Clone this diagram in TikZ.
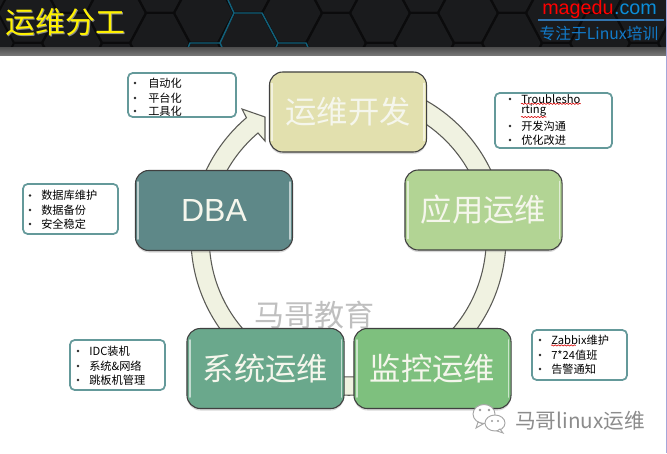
\documentclass[tikz,border=0pt]{standalone}
\usepackage{fontspec}
\setmainfont{Liberation Sans}
\newfontfamily\cjk{Noto Sans CJK SC}
\usetikzlibrary{shadows,decorations.pathmorphing}
\definecolor{hdbg}{HTML}{1A1B1D}
\definecolor{hdline}{HTML}{0B0B0C}
\definecolor{hdcyan}{HTML}{12607A}
\definecolor{ringfill}{HTML}{F0F2E1}
\definecolor{ringline}{HTML}{5A5A55}
\definecolor{notec}{HTML}{64999A}
\definecolor{boxtext}{HTML}{F5F6EC}
\definecolor{devc}{RGB}{226,224,174}
\definecolor{appc}{RGB}{178,212,148}
\definecolor{dbac}{RGB}{94,136,136}
\definecolor{sysc}{RGB}{106,168,140}
\definecolor{monc}{RGB}{126,192,126}
\tikzset{
  bigbox/.style={draw=black!75,line width=.8pt,rounded corners=10pt,minimum width=117.8pt,minimum height=60pt,inner sep=0pt,text=boxtext,
    font=\cjk\fontsize{23.5}{26}\selectfont,drop shadow={shadow xshift=0pt,shadow yshift=-1.5pt,opacity=.3}},
  notebox/.style={draw=notec,line width=1.3pt,fill=white,rounded corners=3.5pt,inner sep=0pt},
  noteline/.style={anchor=west,inner sep=0pt,text=black,font=\cjk\fontsize{8.4}{10}\selectfont},
  notedot/.style={circle,fill=black!85,minimum size=1.9pt,inner sep=0pt},
  gloss/.style={line width=1.3pt,line cap=round,opacity=.6,draw=white},
  wavy/.style={draw=red!85!black,line width=.45pt,decorate,decoration={snake,amplitude=.45pt,segment length=2.4pt}},
}
\newcommand{\gl}[1]{%
  \draw[gloss] ([xshift=2.4pt,yshift=-9pt]#1.north west) -- ([xshift=2.4pt,yshift=9pt]#1.south west);
  \draw[gloss] ([xshift=-2.4pt,yshift=-9pt]#1.north east) -- ([xshift=-2.4pt,yshift=9pt]#1.south east);
}
\newcommand{\nt}[3]{%
  \node[notedot] (#1d) at (\dotx,#2) {};
  \node[noteline] (#1) at (\textx,#2) {#3};
}
\begin{document}
\begin{tikzpicture}[x=.75pt,y=-.75pt]
\useasboundingbox (0,0) rectangle (667,453);
\fill[white] (0,0) rectangle (667,453);
% header
\fill[hdbg] (0,0) rectangle (667,48);
\begin{scope}
\clip (0,0) rectangle (667,48);
\foreach \i in {-1,...,15}{
  \pgfmathsetmacro{\cx}{72+44*\i}
  \pgfmathsetmacro{\cy}{isodd(\i+10)?13:43}
  \foreach \j in {-1,0,1}{
    \draw[hdline,line width=1.5pt,shift={(\cx,\cy+60*\j)}]
      (-14,-30) -- (14,-30) -- (30,0) -- (14,30) -- (-14,30) -- (-30,0) -- cycle;
  }
}
\draw[hdcyan,line width=1.1pt,line join=round]
  (228,0) -- (234,13) -- (262,13) -- (278,43) -- (306,43) -- (314,60)
  (234,13) -- (220,43) -- (228,60)
  (220,43) -- (190,43) -- (183,60)
  (278,43) -- (270,60);
\end{scope}
\shade[top color=black!68,bottom color=black!52] (0,48) rectangle (667,56);
\node[inner sep=0pt,text=black!45,font=\cjk\fontsize{22.5}{24}\selectfont] (titleshadow) at (66.5,23.5) {运维分工};
\node[inner sep=0pt,text=yellow,font=\cjk\fontsize{22.5}{24}\selectfont] (title) at (65,22) {运维分工};
\node[anchor=base west,inner sep=0pt,font=\fontsize{14.8}{18}\selectfont,text=red] (mage) at (542,14.5) {magedu};
\node[anchor=base west,inner sep=0pt,font=\fontsize{14.8}{18}\selectfont,text=cyan!75!blue] (com) at (mage.base east) {.com};
\coordinate (hl) at (538,20);
\coordinate (hr) at (664,20);
\draw[cyan!60!blue!80!black,line width=1pt] (hl) -- (hr);
\node[inner sep=0pt,font=\cjk\fontsize{11.8}{13}\selectfont,text=cyan!60!blue] (slogan) at (599,33) {专注于Linux培训};
% right border
\draw[gray!60!blue!50,line width=1pt] (666.5,0) -- (666.5,453);
% ring
\coordinate (c) at (348.5,237.7);
\draw[fill=ringfill,draw=ringline,line width=.8pt,line join=miter]
  ([shift={(-80:157.5)}]c) arc[start angle=-80,end angle=229.6,radius=157.5]
  -- (242,109) -- (265,117) -- (265,141) -- (258,133)
  arc[start angle=229.6,end angle=-80,radius=138.5] -- cycle;
% watermark behind the boxes
\node[inner sep=0pt,text=black!25,font=\cjk\fontsize{22.5}{24}\selectfont] (wm1) at (314,315) {马哥教育};
% boxes
\node[bigbox,fill=devc] (dev) at (348,112) {运维开发};
\node[bigbox,fill=appc] (app) at (483.5,210) {应用运维};
\node[bigbox,fill=dbac,font=\fontsize{24}{26}\selectfont] (dba) at (214,210.5) {DBA};
\node[bigbox,fill=sysc] (sys) at (265.5,368.5) {系统运维};
\node[bigbox,fill=monc] (mon) at (432.5,368.5) {监控运维};
\gl{dev}
\gl{app}
\gl{dba}
\gl{sys}
\gl{mon}
% notes
\draw[notebox] (128,73) rectangle (236,117);
\def\dotx{135}\def\textx{148}
\nt{na}{83}{自动化}
\nt{nb}{98}{平台化}
\nt{nc}{111}{工具化}
\draw[notebox] (495,93) rectangle (612,148);
\def\dotx{510}\def\textx{521}
\nt{nd}{99}{Troublesho}
\node[noteline] (ne) at (521,111) {rting};
\nt{nf}{126}{开发沟通}
\nt{ng}{140}{优化改进}
\draw[wavy] (nd.south west) -- (nd.south east);
\draw[wavy] (ne.south west) -- (ne.south east);
\draw[notebox] (23,184) rectangle (118,234);
\def\dotx{30}\def\textx{41}
\nt{nh}{195.5}{数据库维护}
\nt{ni}{210}{数据备份}
\nt{nj}{224}{安全稳定}
\draw[notebox] (70,340) rectangle (165,390);
\def\dotx{78}\def\textx{89}
\nt{nk}{351}{IDC装机}
\nt{nl}{366}{系统\&网络}
\nt{nm}{380}{跳板机管理}
\draw[notebox] (532,330) rectangle (627,380);
\def\dotx{540}\def\textx{551}
\nt{nn}{340}{Zabbix维护}
\nt{no}{355}{7*24值班}
\nt{np}{369}{告警通知}
\draw[wavy] (nn.south west) -- ([xshift=-25pt]nn.south east);
% wechat mark
\draw[fill=white,draw=black!35,line width=.7pt] (484,414) ellipse[x radius=11,y radius=9.5];
\draw[fill=white,draw=black!35,line width=.7pt] (478,422) -- (476,428) -- (483,424) -- cycle;
\draw[fill=white,draw=black!35,line width=.7pt] (495,423) ellipse[x radius=10,y radius=8];
\draw[fill=white,draw=black!35,line width=.7pt] (500,429) -- (503,433) -- (497,431) -- cycle;
\fill[black!40] (480,410) circle[radius=1.4] (489,410) circle[radius=1.4] (492,421) circle[radius=1.1] (498,421) circle[radius=1.1];
\node[inner sep=0pt,text=black!45,font=\cjk\fontsize{15.5}{18}\selectfont] (wx) at (580,421) {马哥linux运维};
\end{tikzpicture}
\end{document}
